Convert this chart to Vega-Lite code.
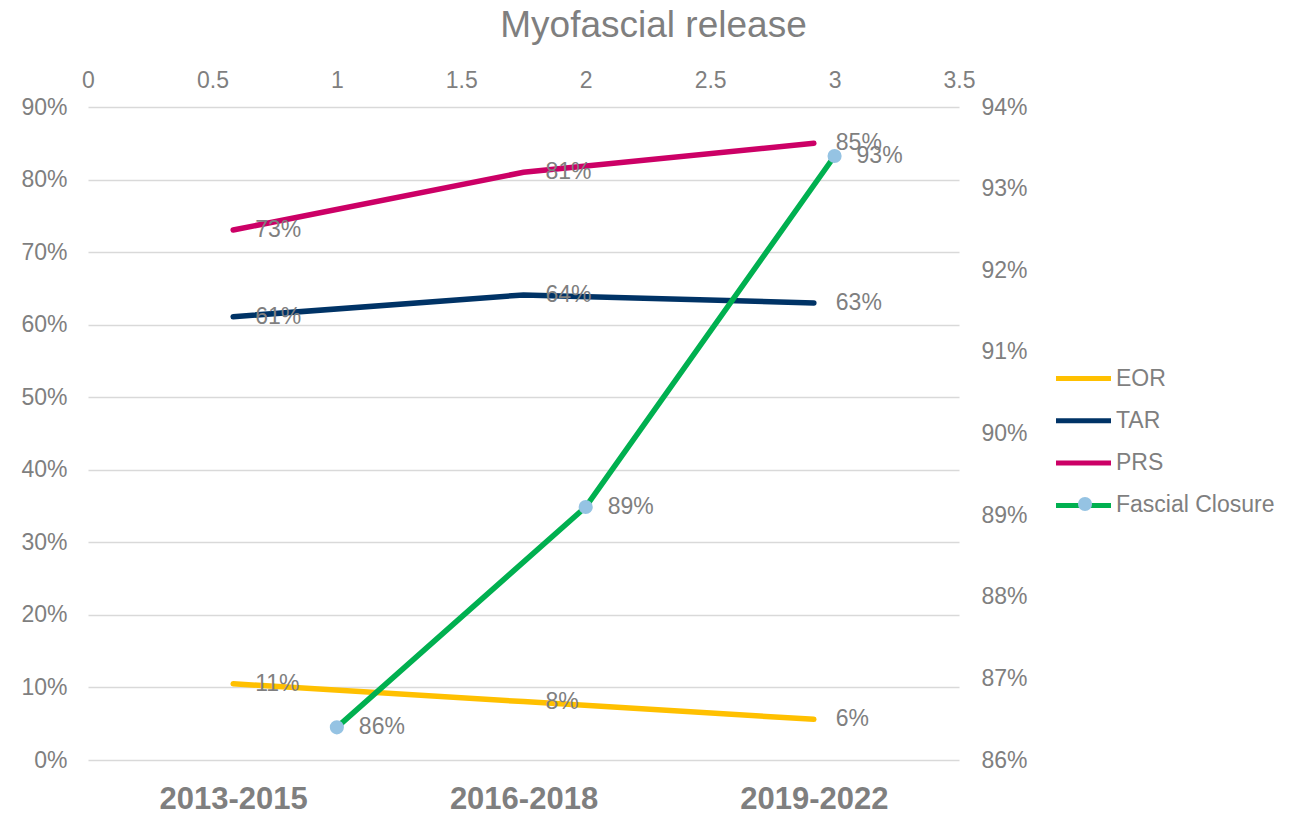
{
  "$schema": "https://vega.github.io/schema/vega-lite/v6.json",
  "width": 871,
  "height": 653,
  "autosize": {"type": "none"},
  "padding": {"left": 88, "top": 107, "right": 347, "bottom": 54},
  "background": "white",
  "title": {"text": "Myofascial release", "fontSize": 37, "font": "Liberation Sans", "fontWeight": "normal", "color": "#7f7f7f", "anchor": "middle", "dx": 130, "offset": 24},
  "config": {
    "view": {"stroke": null},
    "font": "Liberation Sans",
    "axis": {"labelFont": "Liberation Sans", "labelFontSize": 23, "labelColor": "#7f7f7f", "domain": false, "ticks": false, "title": null, "gridColor": "#d9d9d9", "gridWidth": 1.7, "labelFlush": false},
    "legend": {
      "orient": "none", "title": null,
      "labelFont": "Liberation Sans", "labelFontSize": 23, "labelColor": "#7f7f7f",
      "padding": 0
    }
  },
  "layer": [
    {
      "data": {"values": [
        {"period": "2013-2015", "series": "EOR", "value": 0.105, "label": "11%"},
        {"period": "2016-2018", "series": "EOR", "value": 0.0805, "label": "8%"},
        {"period": "2019-2022", "series": "EOR", "value": 0.056, "label": "6%"},
        {"period": "2013-2015", "series": "TAR", "value": 0.611, "label": "61%"},
        {"period": "2016-2018", "series": "TAR", "value": 0.641, "label": "64%"},
        {"period": "2019-2022", "series": "TAR", "value": 0.630, "label": "63%"},
        {"period": "2013-2015", "series": "PRS", "value": 0.7305, "label": "73%"},
        {"period": "2016-2018", "series": "PRS", "value": 0.81, "label": "81%"},
        {"period": "2019-2022", "series": "PRS", "value": 0.85, "label": "85%"}
      ]},
      "encoding": {
        "x": {"field": "period", "type": "nominal", "sort": null, "scale": {"type": "point", "padding": 0.5},
              "axis": {"orient": "bottom", "labelFontSize": 31, "labelFontWeight": "bold", "labelAngle": 0, "labelPadding": 24, "grid": false}},
        "y": {"field": "value", "type": "quantitative", "scale": {"domain": [0, 0.9], "nice": false},
              "axis": {"orient": "left", "values": [0, 0.1, 0.2, 0.3, 0.4, 0.5, 0.6, 0.7, 0.8, 0.9], "format": ".0%", "grid": true, "labelPadding": 21}}
      },
      "layer": [
        {"mark": {"type": "line", "strokeWidth": 5.5, "strokeCap": "round"},
         "encoding": {
           "color": {"field": "series", "type": "nominal",
                     "scale": {"domain": ["EOR", "TAR", "PRS", "Fascial Closure"], "range": ["#FFC000", "#003366", "#CC0066", "#00B050"]},
                     "legend": {"legendX": 979, "legendY": 255, "symbolType": "M-2,0H2", "symbolSize": 756, "symbolStrokeWidth": 5, "rowPadding": 13.3, "labelOffset": 16, "zindex": 1}}
         }},
        {"mark": {"type": "text", "align": "left", "baseline": "middle", "dx": 22, "fontSize": 23, "color": "#7f7f7f", "font": "Liberation Sans"},
         "encoding": {"text": {"field": "label"}}}
      ]
    },
    {
      "data": {"values": [
        {"x": 1, "series": "Fascial Closure", "value": 0.864, "label": "86%"},
        {"x": 2, "series": "Fascial Closure", "value": 0.891, "label": "89%"},
        {"x": 3, "series": "Fascial Closure", "value": 0.934, "label": "93%"}
      ]},
      "encoding": {
        "x": {"field": "x", "type": "quantitative", "scale": {"domain": [0, 3.5], "nice": false},
              "axis": {"orient": "top", "values": [0, 0.5, 1, 1.5, 2, 2.5, 3, 3.5], "format": "~g", "grid": false, "labelPadding": 15}},
        "y": {"field": "value", "type": "quantitative", "scale": {"domain": [0.86, 0.94], "nice": false, "zero": false},
              "axis": {"orient": "right", "values": [0.86, 0.87, 0.88, 0.89, 0.90, 0.91, 0.92, 0.93, 0.94], "format": ".0%", "grid": false, "labelPadding": 22}}
      },
      "layer": [
        {"mark": {"type": "line", "strokeWidth": 5.5, "strokeCap": "round"},
         "encoding": {"color": {"field": "series", "type": "nominal"}}},
        {"mark": {"type": "point", "filled": true, "size": 200, "color": "#95C3E3", "opacity": 1},
         "encoding": {"shape": {"field": "series", "type": "nominal", "scale": {"range": ["circle"]},
                                "legend": {"legendX": 985.5, "legendY": 385.5, "labelExpr": "''", "symbolType": "circle", "symbolSize": 200, "symbolFillColor": "#95C3E3", "symbolStrokeColor": "#95C3E3", "symbolStrokeWidth": 0, "symbolOpacity": 1, "zindex": 2}}}},
        {"mark": {"type": "text", "align": "left", "baseline": "middle", "dx": 22, "fontSize": 23, "color": "#7f7f7f", "font": "Liberation Sans"},
         "encoding": {"text": {"field": "label"}}}
      ]
    }
  ],
  "resolve": {"scale": {"x": "independent", "y": "independent"}, "axis": {"x": "independent", "y": "independent"}}
}
